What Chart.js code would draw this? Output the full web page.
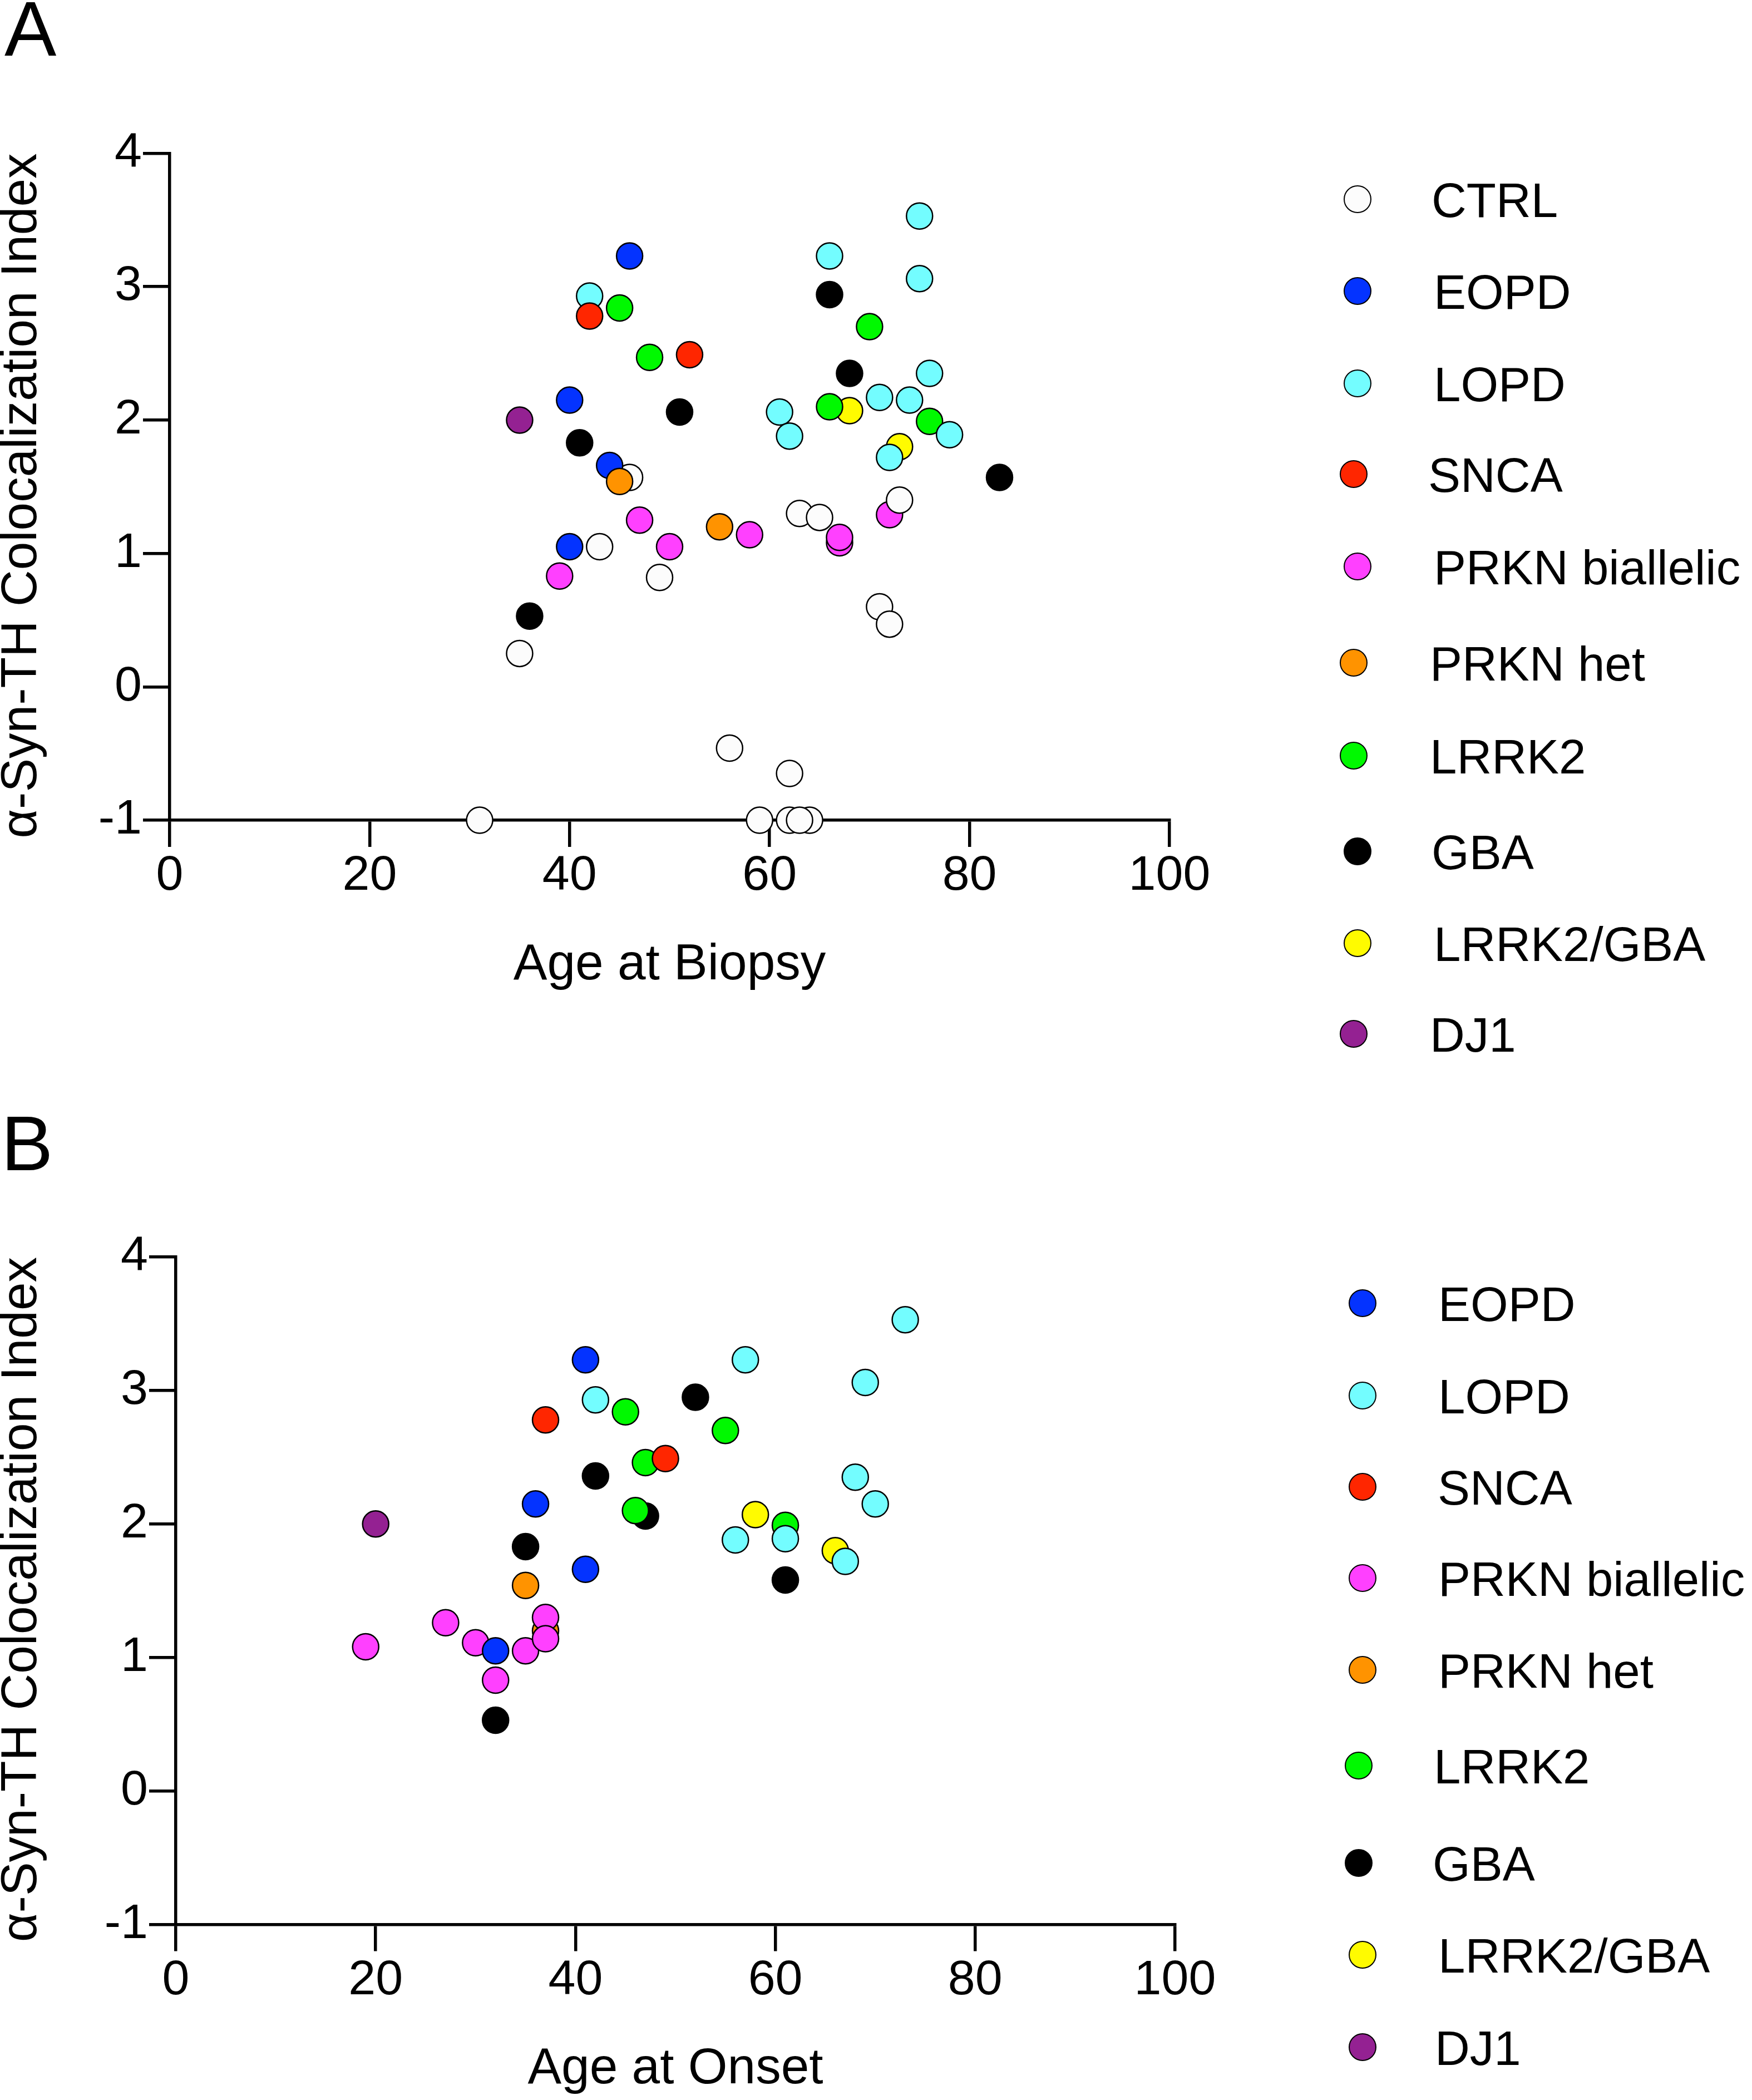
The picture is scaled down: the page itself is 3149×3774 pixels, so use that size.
<!DOCTYPE html>
<html>
<head>
<meta charset="utf-8">
<script src="https://cdn.jsdelivr.net/npm/chart.js@4.4.1/dist/chart.umd.min.js"></script>
<style>
  html, body { margin: 0; padding: 0; background: #fff; }
  body { width: 3149px; height: 3774px; position: relative; overflow: hidden;
         font-family: 'Liberation Sans', Arial, sans-serif; color: #000; }
  canvas { position: absolute; left: 0; }
  .panel { position: absolute; font-size: 140px; line-height: 1; font-weight: normal; }
  .dot { position: absolute; width: 50px; height: 50px; box-sizing: border-box;
         border: 2.5px solid #000; border-radius: 50%; }
  .lab { position: absolute; font-size: 87px; line-height: 1; white-space: nowrap; }
</style>
</head>
<body>
<div class="panel" style="left:8px; top:-18px;">A</div>
<div class="panel" style="left:2px; top:1985px;">B</div>
<canvas id="cA" width="2300" height="1800" style="top:0px; width:2300px; height:1800px;"></canvas>
<canvas id="cB" width="2300" height="1894" style="top:1880px; width:2300px; height:1894px;"></canvas>
<div id="legA"></div>
<div id="legB"></div>
<script>
// ---------------- DATA ----------------
const groupNames = ['CTRL', 'EOPD', 'LOPD', 'SNCA', 'PRKN biallelic', 'PRKN het', 'LRRK2', 'GBA', 'LRRK2/GBA', 'DJ1'];

// Panel A: Age at Biopsy (x) vs alpha-Syn-TH Colocalization Index (y), [x, y]
const biopsyCTRL = [[31,-1],[59,-1],[62,-1],[64,-1],[63,-1],[35,0.25],[43,1.05],[46,1.57],[49,0.82],[56,-0.46],[62,-0.65],[63,1.30],[65,1.27],[71,0.60],[72,0.47],[73,1.40]];
const biopsyEOPD = [[40,1.05],[40,2.15],[44,1.66],[46,3.23]];
const biopsyLOPD = [[42,2.93],[61,2.06],[62,1.88],[66,3.23],[71,2.17],[72,1.72],[74,2.15],[75,3.53],[75,3.06],[76,2.35],[78,1.89]];
const biopsySNCA = [[42,2.78],[52,2.49]];
const biopsyPRKNbi = [[39,0.83],[47,1.25],[50,1.05],[58,1.14],[67,1.08],[67,1.12],[72,1.29]];
const biopsyPRKNhet = [[45,1.54],[55,1.20]];
const biopsyLRRK2 = [[45,2.84],[48,2.47],[66,2.10],[70,2.70],[76,1.99]];
const biopsyGBA = [[36,0.53],[41,1.83],[51,2.06],[66,2.94],[68,2.35],[83,1.57]];
const biopsyLRRK2GBA = [[68,2.07],[73,1.80]];
const biopsyDJ1 = [[35,2.00]];

// Panel B: Age at Onset (x) vs alpha-Syn-TH Colocalization Index (y), [x, y]
const onsetEOPD = [[32,1.05],[36,2.15],[41,1.66],[41,3.23]];
const onsetLOPD = [[42,2.93],[56,1.88],[57,3.23],[61,1.89],[67,1.72],[68,2.35],[69,3.06],[70,2.15],[73,3.53]];
const onsetSNCA = [[37,2.78],[49,2.49]];
const onsetPRKNbi = [[19,1.08],[27,1.26],[30,1.11],[32,0.83],[35,1.05],[37,1.30],[37,1.14]];
const onsetPRKNhet = [[35,1.54],[37,1.20]];
const onsetLRRK2 = [[45,2.84],[46,2.10],[47,2.46],[55,2.70],[61,1.99]];
const onsetGBA = [[32,0.53],[35,1.83],[42,2.36],[47,2.06],[52,2.95],[61,1.58]];
const onsetLRRK2GBA = [[58,2.07],[66,1.80]];
const onsetDJ1 = [[20,2.00]];

const xTicksValues = [0, 20, 40, 60, 80, 100];
const yTicksValues = [-1, 0, 1, 2, 3, 4];

// ---------------- STYLE ----------------
const groupColors = {
  'CTRL': '#FCFCFC', 'EOPD': '#0433FF', 'LOPD': '#73FDFF', 'SNCA': '#FF2600',
  'PRKN biallelic': '#FF40FF', 'PRKN het': '#FF9300', 'LRRK2': '#00F900',
  'GBA': '#000000', 'LRRK2/GBA': '#FFFB00', 'DJ1': '#942192'
};
const FONT = "'Liberation Sans', Arial, sans-serif";

function toPts(arr) { return arr.map(p => ({ x: p[0], y: p[1] })); }

function makeDatasets(series, drawOrder) {
  return series.map(s => ({
    label: s.name,
    data: toPts(s.values),
    backgroundColor: groupColors[s.name],
    borderColor: '#000',
    pointBackgroundColor: groupColors[s.name],
    pointBorderColor: '#000',
    pointBorderWidth: 2.5,
    pointRadius: 23.5,
    pointHoverRadius: 23.5,
    showLine: false,
    clip: false,
    order: drawOrder.indexOf(s.name)
  }));
}

function makeChart(canvasId, datasets, cfg) {
  return new Chart(document.getElementById(canvasId), {
    type: 'scatter',
    data: { datasets },
    options: {
      responsive: false, animation: false, devicePixelRatio: 1, events: [],
      layout: { padding: { left: 0, top: cfg.top, right: cfg.right, bottom: 0 } },
      plugins: { legend: { display: false }, tooltip: { enabled: false } },
      scales: {
        x: {
          type: 'linear', min: 0, max: 100,
          afterBuildTicks: (s) => { s.ticks = xTicksValues.map(v => ({ value: v })); },
          ticks: { color: '#000', font: { family: FONT, size: 88 }, padding: 0, maxRotation: 0, autoSkip: false },
          grid: { display: true, drawOnChartArea: false, drawTicks: true, tickLength: 48, lineWidth: 5.5, color: '#000' },
          border: { display: true, color: '#000', width: 5.5 },
          title: { display: true, text: cfg.xTitle, color: '#000',
                   font: { family: FONT, size: 91, lineHeight: 1.2 }, padding: { top: 0, bottom: cfg.xTitlePad } },
          afterFit: (s) => { s.height = cfg.xHeight; }
        },
        y: {
          type: 'linear', min: -1, max: 4,
          afterBuildTicks: (s) => { s.ticks = yTicksValues.map(v => ({ value: v })); },
          ticks: { color: '#000', font: { family: FONT, size: 88 }, padding: 2, autoSkip: false },
          grid: { display: true, drawOnChartArea: false, drawTicks: true, tickLength: 48, lineWidth: 5.5, color: '#000' },
          border: { display: true, color: '#000', width: 5.5 },
          title: { display: true, text: 'α-Syn-TH Colocalization Index', align: 'end', color: '#000',
                   font: { family: FONT, size: 91, lineHeight: 0.8 }, padding: { top: 3.6, bottom: 0 } },
          afterFit: (s) => { s.width = cfg.yWidth; }
        }
      }
    }
  });
}

// Panel A
const seriesA = [
  { name: 'CTRL', values: biopsyCTRL }, { name: 'EOPD', values: biopsyEOPD },
  { name: 'LOPD', values: biopsyLOPD }, { name: 'SNCA', values: biopsySNCA },
  { name: 'PRKN biallelic', values: biopsyPRKNbi }, { name: 'PRKN het', values: biopsyPRKNhet },
  { name: 'LRRK2', values: biopsyLRRK2 }, { name: 'GBA', values: biopsyGBA },
  { name: 'LRRK2/GBA', values: biopsyLRRK2GBA }, { name: 'DJ1', values: biopsyDJ1 }
];
const orderA = ['SNCA', 'LOPD', 'LRRK2', 'LRRK2/GBA', 'GBA', 'PRKN het', 'EOPD', 'CTRL', 'PRKN biallelic', 'DJ1'];
makeChart('cA', makeDatasets(seriesA, orderA), {
  top: 275.5, right: 198, yWidth: 305, xHeight: 326, xTitle: 'Age at Biopsy', xTitlePad: 10
});

// Panel B
const seriesB = [
  { name: 'EOPD', values: onsetEOPD }, { name: 'LOPD', values: onsetLOPD },
  { name: 'SNCA', values: onsetSNCA }, { name: 'PRKN biallelic', values: onsetPRKNbi },
  { name: 'PRKN het', values: onsetPRKNhet }, { name: 'LRRK2', values: onsetLRRK2 },
  { name: 'GBA', values: onsetGBA }, { name: 'LRRK2/GBA', values: onsetLRRK2GBA },
  { name: 'DJ1', values: onsetDJ1 }
];
const orderB = ['SNCA', 'LOPD', 'LRRK2', 'LRRK2/GBA', 'GBA', 'EOPD', 'PRKN biallelic', 'PRKN het', 'DJ1'];
makeChart('cB', makeDatasets(seriesB, orderB), {
  top: 379, right: 188, yWidth: 316, xHeight: 315.5, xTitle: 'Age at Onset', xTitlePad: 0
});

// ---------------- LEGENDS (HTML) ----------------
function buildLegend(containerId, names, rows, dotX, textX) {
  const c = document.getElementById(containerId);
  names.forEach((n, i) => {
    const d = document.createElement('div');
    d.className = 'dot';
    d.style.left = (dotX[i] - 25) + 'px';
    d.style.top = (rows[i] - 25) + 'px';
    d.style.background = groupColors[n];
    c.appendChild(d);
    const t = document.createElement('div');
    t.className = 'lab';
    t.textContent = n;
    t.style.left = (textX[i] - 6) + 'px';
    t.style.top = (rows[i] - 42.5) + 'px';
    c.appendChild(t);
  });
}
buildLegend('legA', groupNames,
  [358, 523, 689, 852, 1018, 1191, 1358, 1530, 1695, 1858],
  [2440, 2440, 2440, 2433, 2440, 2433, 2433, 2440, 2440, 2433],
  [2579, 2583, 2583, 2573, 2583, 2576, 2576, 2579, 2583, 2576]);
buildLegend('legB', groupNames.slice(1),
  [2342, 2508, 2672, 2836, 3001, 3173, 3348, 3513, 3679],
  [2449, 2449, 2449, 2449, 2449, 2442, 2442, 2449, 2449],
  [2591, 2591, 2590, 2591, 2591, 2583, 2581, 2591, 2585]);
</script>
</body>
</html>
